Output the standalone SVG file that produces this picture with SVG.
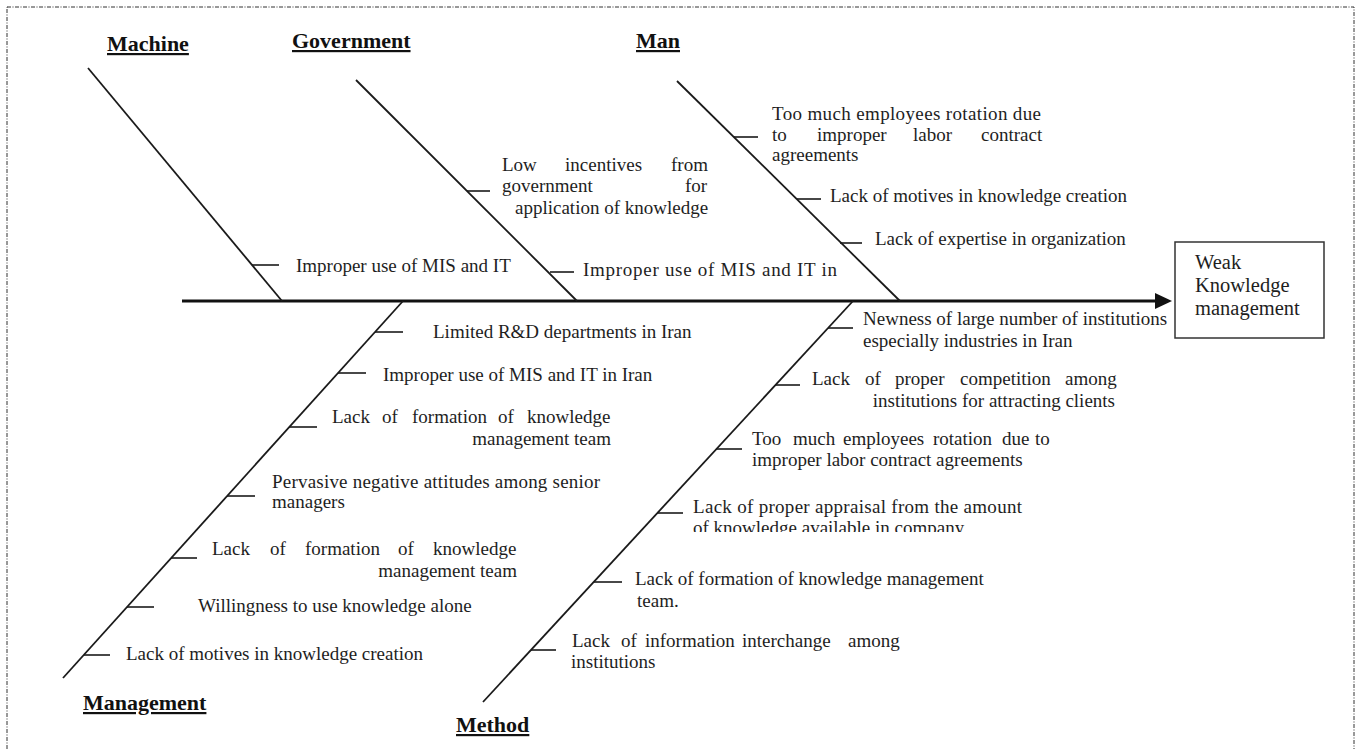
<svg xmlns="http://www.w3.org/2000/svg" width="1357" height="749" viewBox="0 0 1357 749">
<style>
.t{font-family:"Liberation Serif","Times New Roman",serif;font-size:19px;fill:#1e1e1e}
.lbl{font-family:"Liberation Serif","Times New Roman",serif;font-size:22px;font-weight:bold;fill:#111;text-decoration:underline}
.eff{font-family:"Liberation Serif","Times New Roman",serif;font-size:20.5px;fill:#1e1e1e}
.bone{stroke:#1a1a1a;stroke-width:1.8;fill:none}
.tick{stroke:#1a1a1a;stroke-width:1.6;fill:none}
</style>
<defs>
<clipPath id="cutAvail"><rect x="680" y="515" width="360" height="17"/></clipPath>
</defs>
<rect x="0" y="0" width="1357" height="749" fill="#fff"/>
<rect x="7" y="7" width="1347" height="760" fill="none" stroke="#333" stroke-width="1" stroke-dasharray="4,1.5,1,1.5"/>

<g id="connectors">
<line x1="182" y1="301" x2="1157" y2="301" stroke="#111" stroke-width="3"/>
<polygon points="1155,293 1172,301 1155,309" fill="#111"/>
<line class="bone" x1="88" y1="68" x2="282" y2="301"/>
<line class="bone" x1="356" y1="80" x2="577" y2="301"/>
<line class="bone" x1="677" y1="81" x2="900" y2="301"/>
<line class="bone" x1="403" y1="301" x2="63" y2="678"/>
<line class="bone" x1="853" y1="301" x2="483" y2="702"/>
<line class="tick" x1="252" y1="265" x2="279" y2="265"/>
<line class="tick" x1="467" y1="191" x2="490" y2="191"/>
<line class="tick" x1="550" y1="272" x2="574" y2="272"/>
<line class="tick" x1="734" y1="137" x2="758" y2="137"/>
<line class="tick" x1="797" y1="199" x2="821" y2="199"/>
<line class="tick" x1="840" y1="243" x2="862" y2="243"/>
<line class="tick" x1="375" y1="332" x2="403" y2="332"/>
<line class="tick" x1="338" y1="373" x2="366" y2="373"/>
<line class="tick" x1="289" y1="427" x2="317" y2="427"/>
<line class="tick" x1="227" y1="496" x2="255" y2="496"/>
<line class="tick" x1="171" y1="558" x2="197" y2="558"/>
<line class="tick" x1="127" y1="607" x2="154" y2="607"/>
<line class="tick" x1="84" y1="655" x2="110" y2="655"/>
<line class="tick" x1="828" y1="328" x2="853" y2="328"/>
<line class="tick" x1="775" y1="385" x2="800" y2="385"/>
<line class="tick" x1="716" y1="449" x2="742" y2="449"/>
<line class="tick" x1="657" y1="513" x2="683" y2="513"/>
<line class="tick" x1="594" y1="582" x2="622" y2="582"/>
<line class="tick" x1="531" y1="650" x2="556" y2="650"/>
</g>

<g id="effect">
<rect x="1175" y="242" width="149" height="96" fill="#fff" stroke="#333" stroke-width="1.5"/>
<text class="eff" x="1195" y="269">Weak</text>
<text class="eff" x="1195" y="292">Knowledge</text>
<text class="eff" x="1195" y="315">management</text>
</g>

<g id="label-machine"><text class="lbl" x="107" y="51">Machine</text></g>
<g id="label-government"><text class="lbl" x="292" y="48">Government</text></g>
<g id="label-man"><text class="lbl" x="636" y="48">Man</text></g>
<g id="label-management"><text class="lbl" x="83" y="710">Management</text></g>
<g id="label-method"><text class="lbl" x="456" y="732">Method</text></g>

<g id="machine-1"><text class="t" x="296" y="272">Improper use of MIS and IT</text></g>

<g id="government-1">
<text class="t" y="171"><tspan x="502">Low</tspan><tspan x="565">incentives</tspan><tspan x="671">from</tspan></text>
<text class="t" y="192"><tspan x="502">government</tspan><tspan x="685">for</tspan></text>
<text class="t" x="515" y="214">application of knowledge</text>
</g>
<g id="government-2"><text class="t" x="583" y="276" textLength="254" lengthAdjust="spacing">Improper use of MIS and IT in</text></g>

<g id="man-1">
<text class="t" x="772" y="120" textLength="269" lengthAdjust="spacing">Too much employees rotation due</text>
<text class="t" y="141"><tspan x="772">to</tspan><tspan x="817">improper</tspan><tspan x="913">labor</tspan><tspan x="981">contract</tspan></text>
<text class="t" x="772" y="161">agreements</text>
</g>
<g id="man-2"><text class="t" x="830" y="202">Lack of motives in knowledge creation</text></g>
<g id="man-3"><text class="t" x="875" y="245">Lack of expertise in organization</text></g>

<g id="management-1"><text class="t" x="433" y="338">Limited R&amp;D departments in Iran</text></g>
<g id="management-2"><text class="t" x="383" y="381">Improper use of MIS and IT in Iran</text></g>
<g id="management-3">
<text class="t" y="423"><tspan x="332">Lack</tspan><tspan x="382">of</tspan><tspan x="412">formation</tspan><tspan x="498">of</tspan><tspan x="527">knowledge</tspan></text>
<text class="t" x="611" y="445" text-anchor="end">management team</text>
</g>
<g id="management-4">
<text class="t" x="272" y="488" textLength="328" lengthAdjust="spacing">Pervasive negative attitudes among senior</text>
<text class="t" x="272" y="508">managers</text>
</g>
<g id="management-5">
<text class="t" y="555"><tspan x="212">Lack</tspan><tspan x="270">of</tspan><tspan x="305">formation</tspan><tspan x="398">of</tspan><tspan x="433">knowledge</tspan></text>
<text class="t" x="517" y="577" text-anchor="end">management team</text>
</g>
<g id="management-6"><text class="t" x="198" y="612">Willingness to use knowledge alone</text></g>
<g id="management-7"><text class="t" x="126" y="660">Lack of motives in knowledge creation</text></g>

<g id="method-1">
<text class="t" x="863" y="325">Newness of large number of institutions</text>
<text class="t" x="863" y="347">especially industries in Iran</text>
</g>
<g id="method-2">
<text class="t" y="385"><tspan x="812">Lack</tspan><tspan x="865">of</tspan><tspan x="895">proper</tspan><tspan x="960">competition</tspan><tspan x="1065">among</tspan></text>
<text class="t" x="1115" y="407" text-anchor="end">institutions for attracting clients</text>
</g>
<g id="method-3">
<text class="t" y="445"><tspan x="752">Too</tspan><tspan x="793">much</tspan><tspan x="843">employees</tspan><tspan x="933">rotation</tspan><tspan x="1002">due</tspan><tspan x="1035">to</tspan></text>
<text class="t" x="752" y="466">improper labor contract agreements</text>
</g>
<g id="method-4">
<text class="t" x="693" y="513" textLength="329" lengthAdjust="spacing">Lack of proper appraisal from the amount</text>
<text class="t" x="693" y="534" clip-path="url(#cutAvail)">of knowledge available in company</text>
</g>
<g id="method-5">
<text class="t" x="635" y="585">Lack of formation of knowledge management</text>
<text class="t" x="637" y="607">team.</text>
</g>
<g id="method-6">
<text class="t" y="647"><tspan x="572">Lack</tspan><tspan x="621">of</tspan><tspan x="645">information</tspan><tspan x="742">interchange</tspan><tspan x="848">among</tspan></text>
<text class="t" x="571" y="668">institutions</text>
</g>
</svg>
